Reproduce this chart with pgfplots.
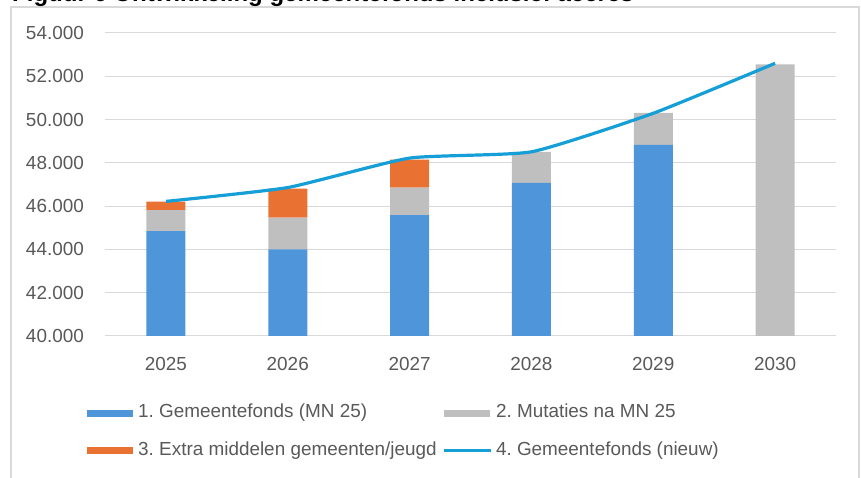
\documentclass[border=0pt]{standalone}
\usepackage{fontspec}
\setmainfont{Liberation Sans}
\usepackage{pgfplots}
\pgfplotsset{compat=1.18}
\definecolor{cblue}{HTML}{4E95D9}
\definecolor{cgrey}{HTML}{BFBFBF}
\definecolor{corange}{HTML}{E97132}
\definecolor{cline}{HTML}{169FD6}
\definecolor{gridc}{HTML}{D9D9D9}
\definecolor{framec}{HTML}{D9D9D9}
\definecolor{textc}{HTML}{595959}
\frenchspacing
\pgfplotsset{
  barlegend/.style={legend image code/.code={\fill[##1,draw=none] (0pt,-3.5pt) rectangle (46pt,3.5pt);}},
  linelegend/.style={legend image code/.code={\draw[##1] (0pt,0pt) -- (47pt,0pt);}},
  common/.style={
    at={(105pt,141pt)}, anchor=south west,
    scale only axis, width=731pt, height=303pt,
    xmin=-0.5, xmax=5.5, ymin=40000, ymax=54000,
  }
}
\begin{document}
\begin{tikzpicture}[x=1pt,y=1pt]
\useasboundingbox (0,0) rectangle (861,477);
\begin{scope}
\clip (0,0) rectangle (861,477);
\draw[color=framec, line width=1.5pt] (11,-20) rectangle (859,470);
\node[anchor=base west, inner sep=0pt, font=\fontsize{24}{28}\selectfont\bfseries] at (12,475) {Figuur 6 Ontwikkeling gemeentefonds inclusief accres};
\end{scope}
\begin{axis}[common,
  ybar stacked, bar width=39pt,
  axis line style={draw=none},
  major tick length=0pt,
  scaled y ticks=false,
  ymajorgrids, grid style={color=gridc, line width=1pt},
  ytick={40000,42000,44000,46000,48000,50000,52000,54000},
  yticklabels={40.000,42.000,44.000,46.000,48.000,50.000,52.000,54.000},
  xtick={0,1,2,3,4,5},
  xticklabels={2025,2026,2027,2028,2029,2030},
  tick label style={font=\fontsize{18.9}{22}\selectfont, text=textc, inner sep=0pt},
  yticklabel style={anchor=east, xshift=-21pt},
  xticklabel style={anchor=base, yshift=-35pt},
  legend columns=2,
  legend cell align=left,
  legend style={at={(axis description cs:-0.0246,-0.225)}, anchor=north west,
    draw=none, fill=none, inner sep=0pt, row sep=20pt,
    font=\fontsize{18.9}{22}\selectfont, text=textc,
    nodes={inner sep=0pt, text height=13.6pt, text depth=4pt},
    /tikz/column 1/.style={column sep=5pt},
    /tikz/column 2/.style={column sep=6pt},
    /tikz/column 3/.style={column sep=3pt}},
]
\addplot[fill=cblue, draw=none, barlegend] coordinates {(0,44840) (1,44000) (2,45580) (3,47070) (4,48830) (5,0)};
\addlegendentry{1. Gemeentefonds (MN 25)}
\addplot[fill=cgrey, draw=none, barlegend] coordinates {(0,970) (1,1470) (2,1280) (3,1440) (4,1480) (5,52550)};
\addlegendentry{2. Mutaties na MN 25}
\addplot[fill=corange, draw=none, barlegend] coordinates {(0,400) (1,1340) (2,1290) (3,0) (4,0) (5,0)};
\addlegendentry{3. Extra middelen gemeenten/jeugd}
\addlegendimage{line width=3.4pt, color=cline, linelegend}
\addlegendentry{4. Gemeentefonds (nieuw)}
\end{axis}
\begin{axis}[common, hide axis]
\addplot[smooth, tension=0.3, line width=3.2pt, color=cline] coordinates {(0,46220) (1,46860) (2,48220) (3,48510) (4,50290) (5,52600)};
\end{axis}
\end{tikzpicture}
\end{document}
